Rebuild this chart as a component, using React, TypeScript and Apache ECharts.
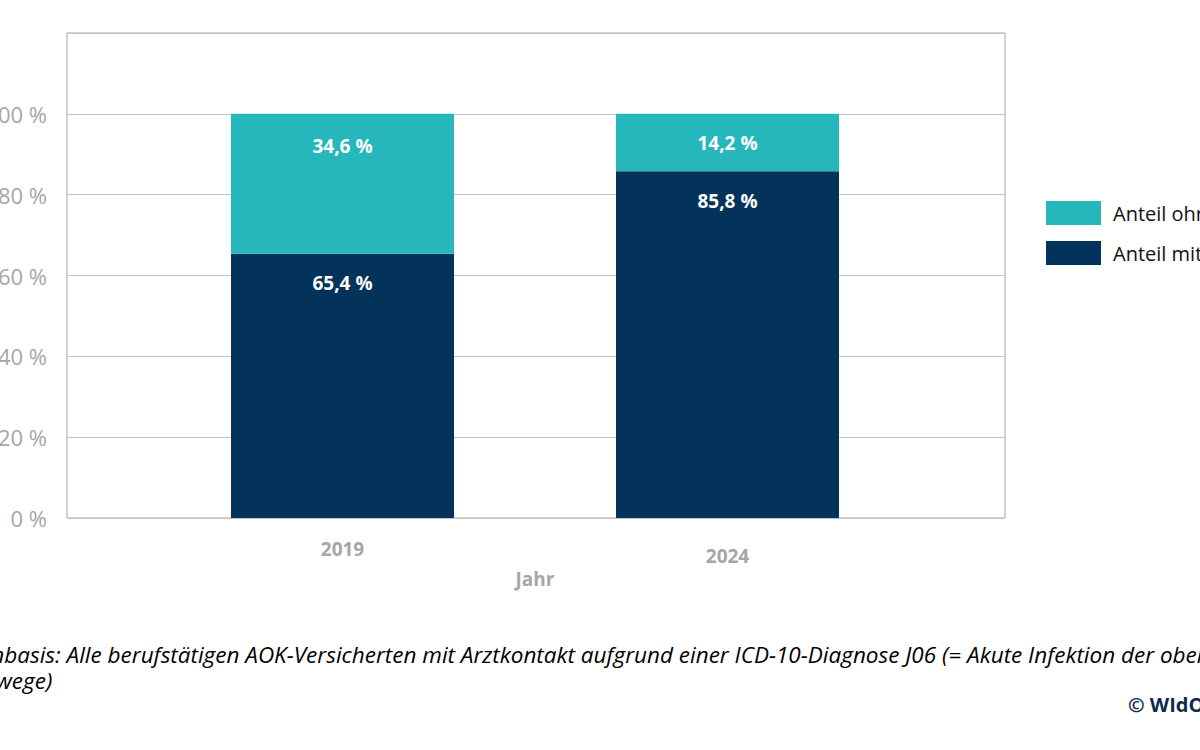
import React, { useEffect, useRef } from 'react';
import * as echarts from 'echarts';

const years = ['2019', '2024'];
const mitAU = [65.4, 85.8];
const ohneAU = [34.6, 14.2];
const seriesNames = ['Anteil ohne AU', 'Anteil mit AU'];
const footLine1 =
  'Datenbasis: Alle berufstätigen AOK-Versicherten mit Arztkontakt aufgrund einer ICD-10-Diagnose J06 (= Akute Infektion der oberen';
const footLine2 = 'Atemwege)';
const copyright = '© WIdO 2025';

const TEAL = '#26b7bd';
const NAVY = '#03335b';
const GREY = '#a6a6a6';
const FOOT_FONT = "'Open Sans', sans-serif";

function measure(text: string, font: string): number {
  const c = document.createElement('canvas');
  const ctx = c.getContext('2d');
  if (!ctx) return 0;
  ctx.font = font;
  return ctx.measureText(text).width;
}

export default function App() {
  const ref = useRef<HTMLDivElement>(null);
  useEffect(() => {
    document.body.style.margin = '0';
    if (!ref.current) return;
    const chart = echarts.init(ref.current, null, { renderer: 'svg' });
    const footFont = `italic 22.5px ${FOOT_FONT}`;
    const off1 = measure('Daten', footFont);
    const off2 = measure('Atem', footFont);
    const off = (off1 + off2) / 2;
    const fmt = (p: any) => Number(p.value).toFixed(1).replace('.', ',') + ' %';
    const barLabel = {
      show: true,
      position: 'insideTop',
      distance: 20,
      color: '#fff',
      fontSize: 19,
      fontWeight: 'bold',
      fontFamily: 'Open Sans',
      formatter: fmt,
    };
    chart.setOption({
      animation: false,
      grid: [
        {
          left: 67,
          top: 33,
          width: 938,
          height: 485,
          show: true,
          borderColor: GREY,
          borderWidth: 1,
          outerBoundsMode: 'none',
          containLabel: false,
        },
        { left: 150, top: 33, width: 770, height: 485, outerBoundsMode: 'none', containLabel: false },
      ],
      xAxis: [
        { type: 'value', gridIndex: 0, show: false, min: 0, max: 1 },
        {
          type: 'category',
          gridIndex: 1,
          data: years,
          axisLine: { show: false },
          axisTick: { show: false },
          axisLabel: {
            margin: 21,
            formatter: (v: string) => (v === '2024' ? `{b|${v}}` : `{a|${v}}`),
            rich: {
              a: { color: GREY, fontSize: 19, fontWeight: 'bold', fontFamily: 'Open Sans' },
              b: { color: GREY, fontSize: 19, fontWeight: 'bold', fontFamily: 'Open Sans', padding: [7, 0, 0, 0] },
            },
          },
          name: 'Jahr',
          nameLocation: 'middle',
          nameGap: 43,
          nameTextStyle: { color: GREY, fontSize: 19, fontWeight: 'bold', fontFamily: 'Open Sans' },
        },
      ],
      yAxis: [
        {
          type: 'value',
          gridIndex: 0,
          min: 0,
          max: 120,
          interval: 20,
          axisLine: { show: false },
          axisTick: { show: false },
          splitLine: { lineStyle: { color: '#c4c4c4', width: 1 } },
          axisLabel: {
            margin: 20,
            color: GREY,
            fontSize: 22,
            fontFamily: 'Open Sans',
            formatter: (v: number) => (v > 100 ? '' : `${v} %`),
          },
        },
        { type: 'value', gridIndex: 1, min: 0, max: 120, show: false },
      ],
      legend: {
        orient: 'vertical',
        left: 1046,
        top: 201,
        padding: 0,
        itemWidth: 55,
        itemHeight: 24,
        itemGap: 16,
        icon: 'rect',
        data: seriesNames,
        textStyle: { fontSize: 20, color: '#111', fontFamily: 'Open Sans', padding: [0, 0, 0, 7] },
      },
      series: [
        {
          name: seriesNames[1],
          type: 'bar',
          stack: 'a',
          xAxisIndex: 1,
          yAxisIndex: 1,
          barWidth: 223,
          data: mitAU,
          itemStyle: { color: NAVY },
          label: barLabel,
        },
        {
          name: seriesNames[0],
          type: 'bar',
          stack: 'a',
          xAxisIndex: 1,
          yAxisIndex: 1,
          barWidth: 223,
          data: ohneAU.map((v, i) => (i === 0 ? { value: v, label: { distance: 23 } } : v)),
          itemStyle: { color: TEAL },
          label: barLabel,
        },
      ],
      graphic: [
        {
          type: 'text',
          left: -off,
          top: 641,
          style: { text: footLine1 + '\n' + footLine2, font: footFont, lineHeight: 26, fill: '#000' },
        },
        {
          type: 'text',
          left: 1128,
          top: 694,
          style: { text: copyright, font: `bold 20px 'Open Sans', sans-serif`, fill: '#0d2c4e' },
        },
      ],
    });
    return () => chart.dispose();
  }, []);
  return <div ref={ref} style={{ width: 1200, height: 750 }} />;
}
